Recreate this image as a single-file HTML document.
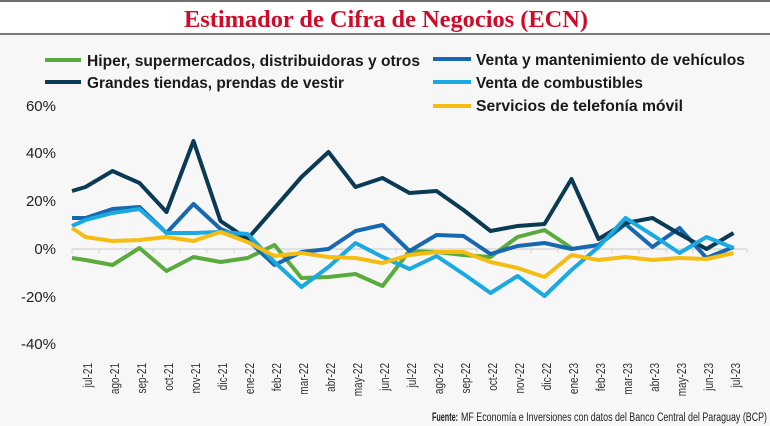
<!DOCTYPE html>
<html><head><meta charset="utf-8"><style>
html,body{margin:0;padding:0;width:770px;height:426px;overflow:hidden;background:#f7f7f7;}
svg{display:block;}
</style></head><body>
<svg width="770" height="426" viewBox="0 0 770 426" xmlns="http://www.w3.org/2000/svg">
<rect x="0" y="0" width="770" height="426" fill="#f7f7f7"/>
<rect x="0" y="0" width="770" height="34" fill="#ffffff"/>
<rect x="0" y="0" width="770" height="2" fill="#6e6e6e"/>
<rect x="0" y="33" width="770" height="2" fill="#7a7a7a"/>
<text x="184" y="27" font-family="Liberation Serif, serif" font-weight="bold" font-size="24" fill="#d10a28" textLength="404" lengthAdjust="spacingAndGlyphs">Estimador de Cifra de Negocios (ECN)</text>

<g font-family="Liberation Sans, sans-serif" font-weight="bold" font-size="16" fill="#1a1a1a">
<line x1="45" y1="60" x2="81" y2="60" stroke="#5aab3e" stroke-width="4"/>
<text x="87" y="66" textLength="333" lengthAdjust="spacingAndGlyphs">Hiper, supermercados, distribuidoras y otros</text>
<line x1="45" y1="82" x2="81" y2="82" stroke="#0b3a55" stroke-width="4"/>
<text x="87" y="88" textLength="257" lengthAdjust="spacingAndGlyphs">Grandes tiendas, prendas de vestir</text>
<line x1="433" y1="59" x2="471" y2="59" stroke="#1768b0" stroke-width="4"/>
<text x="476" y="65" textLength="269" lengthAdjust="spacingAndGlyphs">Venta y mantenimiento de vehículos</text>
<line x1="433" y1="82" x2="471" y2="82" stroke="#1aa9e1" stroke-width="4"/>
<text x="476" y="88" textLength="167" lengthAdjust="spacingAndGlyphs">Venta de combustibles</text>
<line x1="433" y1="106" x2="471" y2="106" stroke="#f5bd12" stroke-width="4"/>
<text x="476" y="111" textLength="207" lengthAdjust="spacingAndGlyphs">Servicios de telefonía móvil</text>
</g>

<g font-family="Liberation Sans, sans-serif" font-size="15" fill="#222" text-anchor="end">
<text x="56" y="111">60%</text>
<text x="56" y="158">40%</text>
<text x="56" y="206">20%</text>
<text x="56" y="254">0%</text>
<text x="56" y="302">-20%</text>
<text x="56" y="349">-40%</text>
</g>

<line x1="72" y1="249" x2="747" y2="249" stroke="#d8d8d8" stroke-width="1.5"/>
<g stroke="#d0d0d0" stroke-width="1">
<path d="M72 249v4M99 249v4M126 249v4M153 249v4M180 249v4M207 249v4M234 249v4M261 249v4M288 249v4M315 249v4M342 249v4M369 249v4M396 249v4M423 249v4M450 249v4M477 249v4M504 249v4M531 249v4M558 249v4M585 249v4M612 249v4M639 249v4M666 249v4M693 249v4M720 249v4M747 249v4"/>
</g>

<g fill="none" stroke-width="4" stroke-linejoin="round" stroke-linecap="butt">
<polyline stroke="#5aab3e" points="72,258 85.5,260 112.5,265 139.5,248 166.5,271 193.5,257 220.5,262 247.5,258 274.5,245 301.5,278 328.5,277 355.5,274 382.5,286 409.5,251 436.5,252 463.5,255 490.5,257 517.5,237 544.5,230 571.5,248"/>
<polyline stroke="#1768b0" points="72,218 85.5,218 112.5,209 139.5,207 166.5,233 193.5,204 220.5,229 247.5,240 274.5,265 301.5,252 328.5,249 355.5,231 382.5,225 409.5,251 436.5,235 463.5,236 490.5,254 517.5,246 544.5,243 571.5,249 598.5,245 625.5,224 652.5,247 679.5,228 706.5,258 733.5,247"/>
<polyline stroke="#0b3a55" points="72,191 85.5,187 112.5,171 139.5,183 166.5,212 193.5,141 220.5,221 247.5,239 274.5,208 301.5,177 328.5,152 355.5,187 382.5,178 409.5,193 436.5,191 463.5,210 490.5,231 517.5,226 544.5,224 571.5,179 598.5,239 625.5,223 652.5,218 679.5,234 706.5,249 733.5,233"/>
<polyline stroke="#1aa9e1" points="72,226 85.5,220 112.5,213 139.5,209 166.5,233 193.5,233 220.5,232 247.5,234 274.5,262 301.5,287 328.5,267 355.5,243 382.5,257 409.5,269 436.5,256 463.5,274 490.5,293 517.5,276 544.5,296 571.5,270 598.5,247 625.5,218 652.5,235 679.5,253 706.5,237 733.5,248"/>
<polyline stroke="#f5bd12" points="72,228 85.5,237 112.5,241 139.5,240 166.5,237 193.5,241 220.5,232 247.5,242 274.5,256 301.5,253 328.5,257 355.5,258 382.5,263 409.5,255 436.5,252 463.5,252 490.5,262 517.5,268 544.5,277 571.5,255 598.5,260 625.5,257 652.5,260 679.5,258 706.5,259 733.5,253"/>
</g>

<g font-family="Liberation Sans, sans-serif" font-size="12.5" fill="#333" text-anchor="end">
<text transform="translate(92,363) rotate(-90) scale(0.8,1)">jul-21</text>
<text transform="translate(119,363) rotate(-90) scale(0.8,1)">ago-21</text>
<text transform="translate(146,363) rotate(-90) scale(0.8,1)">sep-21</text>
<text transform="translate(173,363) rotate(-90) scale(0.8,1)">oct-21</text>
<text transform="translate(200,363) rotate(-90) scale(0.8,1)">nov-21</text>
<text transform="translate(227,363) rotate(-90) scale(0.8,1)">dic-21</text>
<text transform="translate(254,363) rotate(-90) scale(0.8,1)">ene-22</text>
<text transform="translate(281,363) rotate(-90) scale(0.8,1)">feb-22</text>
<text transform="translate(308,363) rotate(-90) scale(0.8,1)">mar-22</text>
<text transform="translate(335,363) rotate(-90) scale(0.8,1)">abr-22</text>
<text transform="translate(362,363) rotate(-90) scale(0.8,1)">may-22</text>
<text transform="translate(389,363) rotate(-90) scale(0.8,1)">jun-22</text>
<text transform="translate(416,363) rotate(-90) scale(0.8,1)">jul-22</text>
<text transform="translate(443,363) rotate(-90) scale(0.8,1)">ago-22</text>
<text transform="translate(470,363) rotate(-90) scale(0.8,1)">sep-22</text>
<text transform="translate(497,363) rotate(-90) scale(0.8,1)">oct-22</text>
<text transform="translate(524,363) rotate(-90) scale(0.8,1)">nov-22</text>
<text transform="translate(551,363) rotate(-90) scale(0.8,1)">dic-22</text>
<text transform="translate(578,363) rotate(-90) scale(0.8,1)">ene-23</text>
<text transform="translate(605,363) rotate(-90) scale(0.8,1)">feb-23</text>
<text transform="translate(632,363) rotate(-90) scale(0.8,1)">mar-23</text>
<text transform="translate(659,363) rotate(-90) scale(0.8,1)">abr-23</text>
<text transform="translate(686,363) rotate(-90) scale(0.8,1)">may-23</text>
<text transform="translate(713,363) rotate(-90) scale(0.8,1)">jun-23</text>
<text transform="translate(740,363) rotate(-90) scale(0.8,1)">jul-23</text>
</g>

<g font-family="Liberation Sans, sans-serif" font-size="11.5" fill="#222">
<text x="432" y="421" font-weight="bold" textLength="26" lengthAdjust="spacingAndGlyphs">Fuente:</text>
<text x="461" y="421" textLength="306" lengthAdjust="spacingAndGlyphs">MF Economía e Inversiones con datos del Banco Central del Paraguay (BCP)</text>
</g>
</svg>
</body></html>
